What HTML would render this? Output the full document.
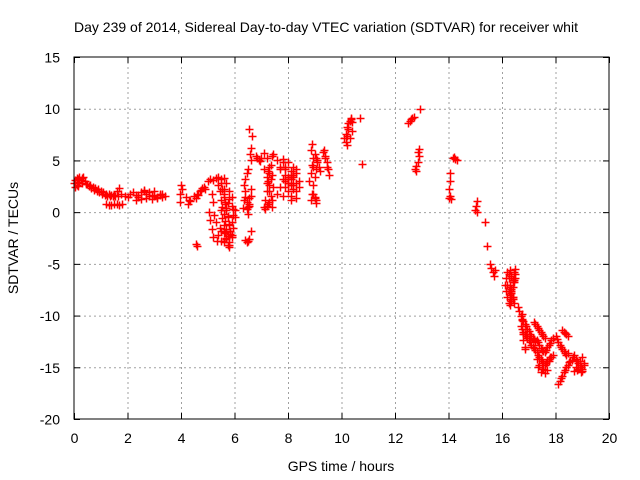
<!DOCTYPE html>
<html><head><meta charset="utf-8"><style>
body{margin:0;background:#fff}
svg{display:block;font-family:"Liberation Sans",sans-serif}
</style></head><body>
<svg id="chart" width="640" height="480">
<rect width="640" height="480" fill="#fff"/>
<text x="326" y="32" font-size="14" text-anchor="middle">Day 239 of 2014, Sidereal Day-to-day VTEC variation (SDTVAR) for receiver whit</text>
<g id="grid"></g>
<g id="ticks"></g>
<g id="pts"></g>
<rect x="74" y="57" width="535" height="362" fill="none" stroke="#000" stroke-width="1"/>
<text x="341" y="471" font-size="14" text-anchor="middle">GPS time / hours</text>
<text transform="translate(18,238) rotate(-90)" font-size="14" text-anchor="middle">SDTVAR / TECUs</text>
</svg>
<script>
const xTicks=[0,2,4,6,8,10,12,14,16,18,20];
const yTicks=[15,10,5,0,-5,-10,-15,-20];
const times=[
0,0.05,0.1,0.15,0.2,0.25,0.3,0.35,0.1,0.2,0.3,0.05,0.15,0.4,0.5,0.6,0.7,0.8,0.9,1.0,1.1,1.2,1.3,1.4,1.5,0.45,0.55,0.65,0.75,0.85,0.95,1.05,1.15,1.25,1.35,1.45,1.55,1.65,1.75,1.6,1.7,1.2,1.3,1.4,1.5,1.6,1.7,1.8,
1.9,2.0,2.1,2.2,2.3,2.4,2.5,2.6,2.7,2.8,2.9,3.0,3.1,3.2,3.3,3.4,2.3,2.5,2.7,2.9,3.1,3.3,2.4,2.6,2.8,3.0,3.2,
3.95,3.97,4.0,4.02,4.2,4.3,4.25,4.35,4.5,4.6,4.7,4.8,4.55,4.65,4.75,4.85,4.9,4.55,4.58,
5.0,5.1,5.2,5.3,5.4,5.5,5.6,5.05,5.1,5.15,5.2,5.15,5.2,5.25,5.3,5.35,5.4,5.45,5.5,5.55,5.6,5.65,5.7,5.75,5.8,5.85,5.9,5.95,6.0,
5.4,5.45,5.5,5.55,5.6,5.65,5.7,5.75,5.8,5.85,5.9,5.95,5.5,5.55,5.6,5.65,5.7,5.75,5.8,5.6,5.65,5.7,5.75,5.8,5.85,5.9,5.5,5.6,5.7,5.8,5.6,5.7,5.8,5.9,5.5,5.6,5.7,5.75,5.8,5.9,5.95,6.0,
6.3,6.35,6.4,6.45,6.5,6.55,6.6,6.35,6.4,6.45,6.5,6.55,6.4,6.45,6.5,6.55,6.6,6.6,6.62,6.65,6.55,6.57,6.4,6.45,6.5,6.55,6.62,
6.8,6.85,6.9,6.95,7.0,
7.1,7.15,7.2,7.25,7.3,7.35,7.4,7.45,7.1,7.2,7.3,7.4,7.15,7.25,7.35,7.45,7.2,7.3,7.4,7.1,7.2,7.3,7.2,7.3,7.4,7.25,7.35,
7.6,7.7,7.8,7.9,8.0,8.1,8.2,8.3,8.4,7.7,7.8,7.9,8.0,8.1,8.2,8.3,7.8,7.9,8.0,8.1,8.2,8.3,7.8,7.9,8.0,8.1,8.2,7.9,8.0,8.1,8.2,8.3,8.4,7.6,7.7,8.0,8.1,8.3,
8.8,8.85,8.9,8.95,9.0,9.05,9.1,8.85,8.9,8.95,9.0,9.05,9.1,9.15,9.2,8.85,8.9,8.95,9.0,9.05,8.95,9.0,9.05,9.3,9.35,9.4,9.45,9.5,9.55,9.4,9.45,
10.1,10.15,10.2,10.25,10.3,10.35,10.4,10.15,10.2,10.25,10.3,10.35,10.2,10.3,10.4,10.7,10.75,
12.5,12.55,12.6,12.65,12.7,12.75,12.8,12.85,12.9,12.95,12.8,12.85,12.9,
14.0,14.02,14.05,14.07,14.1,14.05,14.15,14.2,14.25,14.3,
15.0,15.02,15.05,15.08,15.35,15.45,15.55,15.6,15.65,15.7,15.75,
16.1,16.15,16.2,16.25,16.3,16.35,16.4,16.45,16.5,16.15,16.2,16.25,16.3,16.35,16.4,16.2,16.25,16.3,16.35,16.4,16.45,16.25,16.3,16.35,16.4,16.45,16.5,16.3,16.35,16.4,16.3,16.35,16.4,16.45,16.5,
16.6,16.65,16.7,16.75,16.8,16.85,16.9,16.95,17.0,17.05,17.1,17.15,17.2,17.25,17.3,17.35,17.4,17.45,17.5,17.55,17.6,17.65,17.7,17.75,17.8,17.85,17.9,
16.7,16.75,16.8,16.85,16.9,16.95,17.0,17.05,17.1,17.15,17.2,17.25,17.3,17.35,17.4,17.45,17.5,17.55,17.6,17.65,17.7,17.75,17.8,16.75,16.8,16.85,16.75,16.8,16.85,
17.2,17.25,17.3,17.35,17.4,17.45,17.5,17.55,17.6,17.3,17.4,17.5,17.6,17.7,17.35,17.45,17.55,17.65,17.75,17.85,17.9,
18.25,18.3,18.35,18.4,18.45,18.0,18.05,18.1,18.15,18.2,18.25,18.3,18.35,18.4,18.45,18.1,18.15,18.2,18.25,18.3,18.35,18.4,18.45,18.5,18.55,18.6,
18.65,18.7,18.75,18.8,18.85,18.9,18.95,19.0,19.05,18.7,18.8,18.9,19.0,19.05,18.75,18.85,18.95,19.0
];
const values=[
2.8,3.1,3.3,3.2,3.4,3.1,3.3,3.4,2.6,2.9,2.8,2.4,2.5,3.0,2.7,2.6,2.4,2.3,2.2,2.0,1.9,1.8,1.8,1.7,1.7,2.7,2.5,2.3,2.1,2.0,1.9,1.8,1.7,1.6,1.6,1.6,1.6,1.6,1.8,2.0,2.3,0.8,0.7,0.7,0.8,0.8,0.7,0.8,
1.6,1.5,1.8,1.9,1.7,1.5,1.9,2.0,1.8,1.6,1.7,1.6,1.5,1.7,1.8,1.6,1.2,1.3,1.4,1.3,1.4,1.5,1.7,2.1,1.9,2.0,1.8,
1.0,1.8,2.6,2.2,1.5,1.2,0.8,1.1,1.6,1.8,2.0,2.3,1.4,1.7,2.1,2.4,2.2,-3.1,-3.3,
3.0,3.2,3.1,3.3,3.4,3.2,3.3,0.0,-0.8,-1.6,-2.4,1.8,1.0,-0.3,-1.0,-2.8,-2.2,-1.5,2.8,2.2,1.5,0.8,0.2,-0.5,-1.2,-1.8,-2.2,-1.5,-0.5,
2.6,2.0,1.2,0.5,-0.2,-0.9,-1.6,-2.3,-2.9,-2.1,-1.0,0.3,0.2,-0.6,-1.2,-1.9,-2.6,-3.2,-3.4,1.8,1.0,0.4,-0.4,-1.1,-1.8,-2.4,-2.8,-2.9,-2.6,-3.2,2.2,2.8,2.0,1.5,-1.8,-2.0,-2.5,0.9,1.3,0.6,-0.3,0.2,
0.4,1.2,2.0,1.0,0.5,1.4,2.2,2.6,3.2,3.8,4.2,0.8,1.5,0.3,-0.2,0.6,1.6,5.0,6.2,7.4,8.0,5.6,-2.7,-2.9,-2.8,-2.6,-1.8,
5.4,5.2,5.0,4.9,5.2,
0.5,1.2,2.0,3.0,3.8,4.6,5.4,5.6,5.7,5.2,4.4,3.6,0.3,0.8,1.6,2.4,2.8,2.0,1.2,4.2,3.4,2.6,0.6,1.0,0.5,4.0,3.2,
5.0,4.2,4.8,3.6,2.8,3.2,4.4,3.8,3.0,2.4,3.2,4.2,4.8,3.6,2.6,2.0,1.6,2.4,3.4,4.0,3.6,4.2,5.1,4.4,2.8,1.6,2.2,3.0,2.0,2.6,3.4,2.8,2.4,1.8,4.4,3.2,1.2,1.4,
3.0,3.8,4.6,5.2,5.6,5.2,4.8,1.2,1.8,2.6,3.4,4.2,5.0,4.4,4.0,6.0,6.6,4.4,1.4,0.9,1.8,1.5,1.2,5.8,6.0,5.4,4.8,4.2,3.6,5.2,4.4,
7.2,7.6,8.2,8.6,8.8,9.0,8.7,6.8,7.4,8.0,8.8,9.1,6.5,7.2,7.8,9.1,4.7,
8.6,8.8,9.0,9.1,9.2,4.2,4.5,4.8,5.4,10.0,4.0,5.8,6.1,
1.4,2.2,3.0,3.8,1.3,1.6,5.2,5.3,5.1,5.0,
0.2,0.6,1.1,0.0,-1.0,-3.3,-5.0,-5.4,-5.8,-6.2,-5.6,
-7.0,-7.6,-8.2,-8.8,-8.4,-7.8,-7.2,-6.6,-6.0,-6.4,-7.0,-7.6,-8.0,-7.4,-6.8,-5.8,-6.4,-7.0,-7.6,-8.2,-8.8,-6.0,-5.6,-6.2,-6.6,-5.8,-6.4,-9.0,-8.6,-8.2,-7.2,-7.8,-8.4,-6.8,-5.5,
-9.2,-9.6,-10.0,-10.3,-10.5,-10.8,-11.0,-11.3,-11.5,-11.8,-12.0,-12.2,-12.3,-12.5,-12.4,-12.6,-12.8,-13.1,-13.3,-13.4,-13.5,-13.3,-13.0,-12.8,-12.7,-12.4,-12.2,
-11.0,-11.3,-11.6,-11.8,-12.0,-12.2,-12.4,-12.6,-12.8,-13.0,-13.1,-13.3,-13.5,-13.8,-14.0,-14.2,-14.4,-14.6,-14.8,-14.6,-14.4,-14.2,-14.0,-9.8,-12.4,-13.0,-10.4,-11.8,-13.2,
-10.6,-10.8,-11.0,-11.2,-11.4,-11.6,-11.8,-12.0,-12.2,-14.2,-14.8,-15.2,-15.6,-15.3,-15.0,-15.5,-15.2,-14.6,-14.4,-14.0,-13.8,
-11.4,-11.6,-11.7,-11.8,-12.0,-12.0,-12.3,-12.6,-12.8,-13.0,-13.2,-13.4,-13.6,-13.8,-13.6,-16.6,-16.3,-16.0,-15.8,-15.5,-15.3,-15.0,-14.8,-14.5,-14.4,-14.3,
-14.0,-13.8,-14.2,-14.4,-14.6,-14.8,-15.0,-15.2,-14.8,-15.4,-15.3,-14.4,-14.0,-14.6,-15.0,-15.2,-15.5,-15.4
];
const X0=74,X1=609,Y0=419,Y1=57;
const xs=h=>X0+(h-0)/(20-0)*(X1-X0);
const ys=v=>Y0-(v-(-20))/(15-(-20))*(Y0-Y1);
const NS='http://www.w3.org/2000/svg';
const grid=document.getElementById('grid'),ticks=document.getElementById('ticks'),pts=document.getElementById('pts');
function mk(tag,attrs,parent){const e=document.createElementNS(NS,tag);for(const k in attrs)e.setAttribute(k,attrs[k]);parent.appendChild(e);return e;}
xTicks.forEach(t=>{
  const x=xs(t)+0.5;
  if(t>0&&t<20){const g=mk('line',{x1:x,x2:x,y1:Y1,y2:Y0,stroke:'#a0a0a0','stroke-dasharray':'2,3'},grid);
  
  }
  mk('line',{x1:x,x2:x,y1:Y0,y2:Y0-6,stroke:'#000'},ticks);
  mk('line',{x1:x,x2:x,y1:Y1,y2:Y1+6,stroke:'#000'},ticks);
  const l=mk('text',{x:x,y:443,'font-size':14,'text-anchor':'middle'},ticks);l.textContent=t;
  
  
});
yTicks.forEach(t=>{
  const y=ys(t)+0.5;
  if(t<15&&t>-20){const g=mk('line',{x1:X0,x2:X1,y1:y,y2:y,stroke:'#a0a0a0','stroke-dasharray':'2,3'},grid);
  
  }
  mk('line',{x1:X0,x2:X0+6,y1:y,y2:y,stroke:'#000'},ticks);
  mk('line',{x1:X1,x2:X1-6,y1:y,y2:y,stroke:'#000'},ticks);
  const l=mk('text',{x:60,y:y+5,'font-size':14,'text-anchor':'end'},ticks);l.textContent=t;
  
  
});
for(let i=0;i<Math.min(times.length,values.length);i++){
  const x=Math.round(xs(times[i]))+0.5,y=Math.round(ys(values[i]))+0.5;
  const p=mk('path',{d:`M${x-4},${y}H${x+4}M${x},${y-4}V${y+4}`,stroke:'#f00','stroke-width':1.5,fill:'none'},pts);
  
  
}
</script>
</body></html>
